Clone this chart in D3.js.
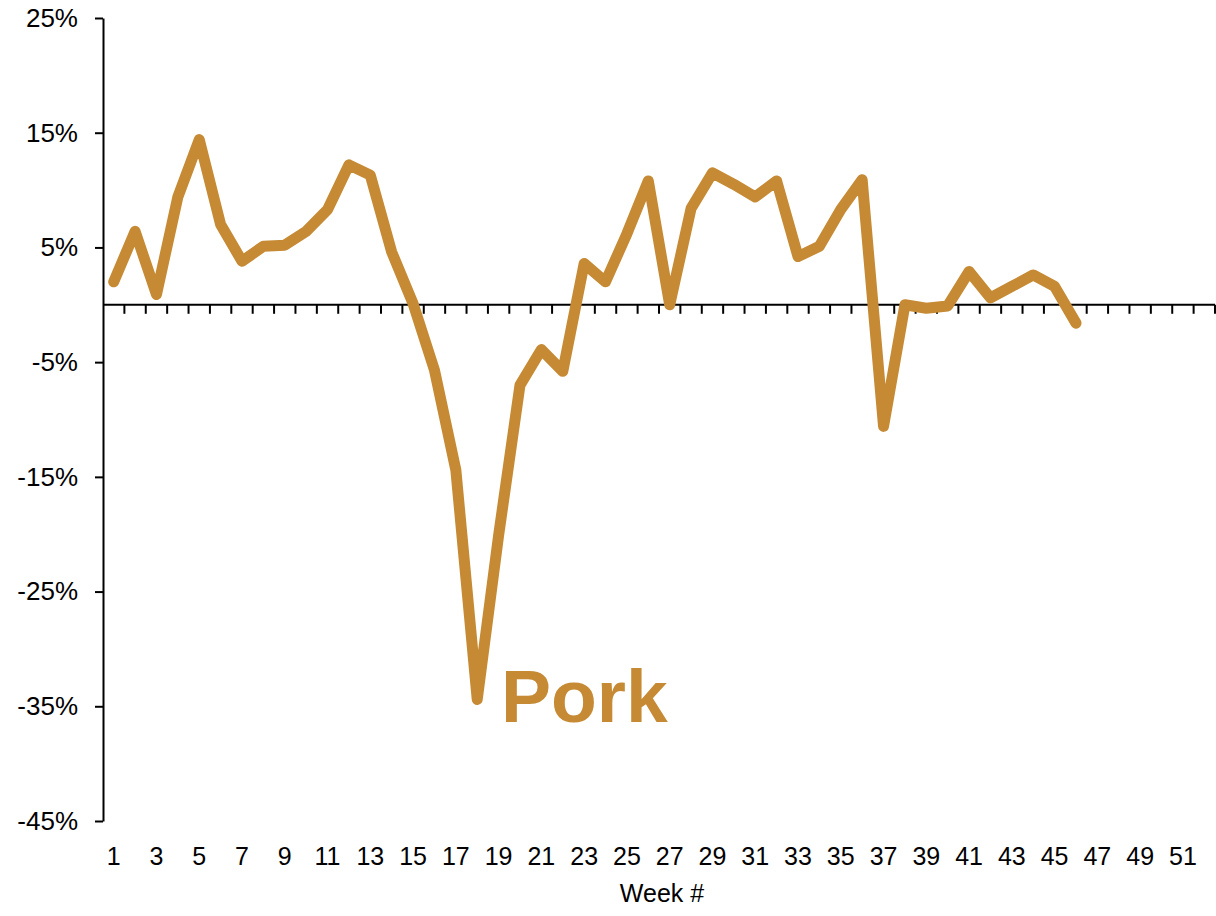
<!DOCTYPE html>
<html>
<head>
<meta charset="utf-8">
<script src="https://cdn.jsdelivr.net/npm/d3@7"></script>
<style>
  body { margin: 0; background: #fff; }
  text { font-family: "Liberation Sans", Arial, sans-serif; fill: #000; }
</style>
</head>
<body>
<div id="chart"></div>
<script>
var svgWidth = 1216;
var svgHeight = 916;

var margin = { top: 18, right: 1, bottom: 95, left: 103 };
var width = svgWidth - margin.left - margin.right;
var height = svgHeight - margin.top - margin.bottom;

// weeks 1..52 on the axis, data runs through week 46
var weeks = d3.range(1, 53);
var porkChange = [2.0, 6.4, 0.9, 9.4, 14.4, 7.0, 3.8, 5.1, 5.2, 6.4,
  8.3, 12.2, 11.3, 4.6, 0.1, -5.7, -14.4, -34.4, -20.1, -7.0,
  -3.9, -5.8, 3.6, 2.0, 6.2, 10.8, 0.0, 8.4, 11.5, 10.5,
  9.4, 10.8, 4.2, 5.1, 8.3, 10.9, -10.6, 0.0, -0.3, -0.1,
  2.9, 0.6, 1.6, 2.6, 1.6, -1.6];
var yTicks = [25, 15, 5, -5, -15, -25, -35, -45];
var seriesName = "Pork";
var lineColor = "#C68A34";

var svg = d3.select("#chart").append("svg")
  .attr("width", svgWidth)
  .attr("height", svgHeight);

var chartGroup = svg.append("g")
  .attr("transform", `translate(${margin.left}, ${margin.top})`);

var xScale = d3.scaleBand()
  .domain(weeks)
  .range([0, width]);

var yScale = d3.scaleLinear()
  .domain([-45, 25])
  .range([height, 0]);

// y axis
var leftAxis = d3.axisLeft(yScale)
  .tickValues(yTicks)
  .tickFormat(d => d + "%")
  .tickSizeInner(8)
  .tickSizeOuter(0)
  .tickPadding(17);

var yAxisG = chartGroup.append("g").call(leftAxis);
yAxisG.select(".domain").attr("stroke", "#000").attr("stroke-width", 2);
yAxisG.selectAll(".tick line").attr("stroke", "#000").attr("stroke-width", 2);
yAxisG.selectAll(".tick text")
  .style("font-size", "26px")
  .attr("font-family", null);

// x axis on the zero line, ticks between categories
var zeroY = yScale(0);
var xAxisG = chartGroup.append("g").attr("class", "x-axis");
xAxisG.append("line")
  .attr("x1", 0).attr("x2", width)
  .attr("y1", zeroY).attr("y2", zeroY)
  .attr("stroke", "#000").attr("stroke-width", 2);

xAxisG.selectAll(".xtick")
  .data(weeks)
  .enter().append("line")
  .attr("class", "xtick")
  .attr("x1", d => xScale(d) + xScale.bandwidth())
  .attr("x2", d => xScale(d) + xScale.bandwidth())
  .attr("y1", zeroY)
  .attr("y2", zeroY + 9)
  .attr("stroke", "#000").attr("stroke-width", 2);

// tick labels at the bottom, every other week
chartGroup.selectAll(".xlabel")
  .data(weeks.filter(d => d % 2 === 1))
  .enter().append("text")
  .attr("class", "xlabel")
  .attr("x", d => xScale(d) + xScale.bandwidth() / 2)
  .attr("y", height + 44)
  .attr("text-anchor", "middle")
  .style("font-size", "25px")
  .text(d => d);

// line
var line = d3.line()
  .x((d, i) => xScale(weeks[i]) + xScale.bandwidth() / 2)
  .y(d => yScale(d));

chartGroup.append("path")
  .datum(porkChange)
  .attr("fill", "none")
  .attr("stroke", lineColor)
  .attr("stroke-width", 11)
  .attr("stroke-linejoin", "round")
  .attr("stroke-linecap", "round")
  .attr("d", line);

// series label
chartGroup.append("text")
  .attr("x", xScale(19) + 13)
  .attr("y", yScale(-36.5) - 1)
  .style("font-size", "75px")
  .style("font-weight", "bold")
  .style("fill", lineColor)
  .text(seriesName);

// axis title
chartGroup.append("text")
  .attr("x", width / 2 + 3)
  .attr("y", height + 81)
  .attr("text-anchor", "middle")
  .style("font-size", "25px")
  .text("Week #");
</script>
</body>
</html>
